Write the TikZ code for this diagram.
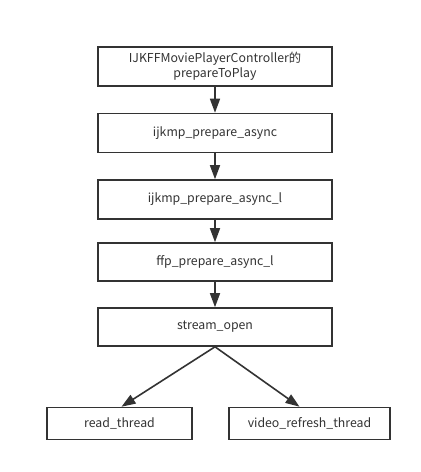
\documentclass[tikz,border=0pt]{standalone}
\usepackage{fontspec}
\setmainfont{Noto Sans CJK SC}
\usetikzlibrary{arrows.meta}
\definecolor{ink}{HTML}{333333}
\begin{document}
\begin{tikzpicture}[x=1pt,y=-1pt,
  box/.style={draw=ink,line width=1.6pt,fill=white,inner sep=0pt,text=ink,font=\fontsize{12.3}{15}\selectfont,align=center},
  conn/.style={draw=ink,line width=1.6pt,-{Triangle[length=14pt,width=10pt]}}]
\useasboundingbox (0,0) rectangle (421,472);
\fill[white] (0,0) rectangle (421,472);
\node[box,minimum width=234pt,minimum height=39pt] (a) at (215,66.5) {IJKFFMoviePlayerController的\\prepareToPlay};
\node[box,minimum width=234pt,minimum height=39pt] (b) at (215,133) {ijkmp\_prepare\_async};
\node[box,minimum width=234pt,minimum height=39pt] (c) at (215,199.5) {ijkmp\_prepare\_async\_l};
\node[box,minimum width=234pt,minimum height=38pt] (d) at (215,262) {ffp\_prepare\_async\_l};
\node[box,minimum width=234pt,minimum height=38pt] (e) at (215,327) {stream\_open};
\node[box,minimum width=145pt,minimum height=32pt] (f) at (119.5,423.5) {read\_thread};
\node[box,minimum width=161pt,minimum height=32pt] (g) at (309.5,423.5) {video\_refresh\_thread};
\draw[conn] (a) -- (b);
\draw[conn] (b) -- (c);
\draw[conn] (c) -- (d);
\draw[conn] (d) -- (e);
\draw[conn] (e.south) -- ([xshift=2pt]f.north);
\draw[conn] (e.south) -- ([xshift=-10pt]g.north);
\end{tikzpicture}
\end{document}
